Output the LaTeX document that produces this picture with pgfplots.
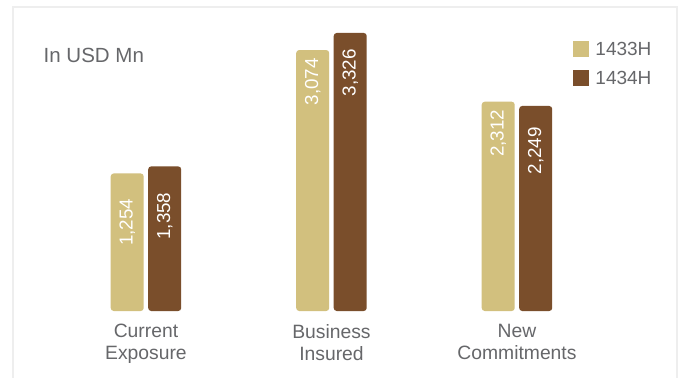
\documentclass[border=0pt]{standalone}
\usepackage{pgfplots}
\pgfplotsset{compat=1.18}
\usepackage{pgfplotstable}
\usepackage{fontspec}
\setmainfont{Liberation Sans}
\definecolor{tanbar}{RGB}{210,192,126}
\definecolor{brownbar}{RGB}{122,78,43}
\definecolor{txtgrey}{RGB}{102,103,106}
\definecolor{framegrey}{RGB}{238,238,238}

\pgfplotstableread{
x v off
0 1254 25
1 3074 8
2 2312 8
}\tA
\pgfplotstableread{
x v off
0 1358 26
1 3326 16
2 2249 21
}\tB

\begin{document}
\begin{tikzpicture}[x=1pt,y=1pt]
\path[use as bounding box] (0,0) rectangle (680,378);
\fill[white] (0,0) rectangle (680,378);
\draw[framegrey, line width=2pt] (13,0) -- (13,371) -- (677,371) -- (677,0);
\begin{axis}[
  at={(20pt,67pt)}, anchor=south west,
  scale only axis, width=640pt, height=300pt,
  xmin=-0.679, xmax=2.771, ymin=0, ymax=4425,
  axis line style={draw=none},
  ytick=\empty,
  xtick={0,1,2},
  xticklabels={Current\\Exposure, Business\\Insured, New\\Commitments},
  major tick length=0pt, tick style={draw=none},
  xticklabel style={anchor=north, inner sep=0pt, yshift=-13pt, align=center,
    font=\fontsize{19.3}{22}\selectfont, text=txtgrey},
  ybar, bar width=33pt,
  /pgf/number format/assume math mode=true,
  point meta=explicit,
  nodes near coords={\pgfmathprintnumber[1000 sep={,}]{\pgfplotspointmeta}},
  visualization depends on={\thisrow{off} \as \off},
  every node near coord/.append style={rotate=90, anchor=east, inner sep=0pt,
    xshift=-\off pt, text=white, font=\fontsize{18.8}{20}\selectfont},
  legend image code/.code={\fill[#1,sharp corners] (0pt,-7.5pt) rectangle (16pt,8.5pt);},
  legend style={at={(axis description cs:0.8645,0.9)}, anchor=north west,
    draw=none, fill=none, inner sep=0pt, row sep=13pt, column sep=6pt,
    font=\fontsize{19}{22}\selectfont, text=txtgrey, nodes={inner sep=0pt}},
  legend cell align=left,
]
\addplot[fill=tanbar, draw=none, rounded corners=3pt, bar shift=-18.75pt]
  table[x=x, y expr=\thisrow{v}+775, meta=v]{\tA};
\addlegendentry{1433H}
\addplot[fill=brownbar, draw=none, rounded corners=3pt, bar shift=18.75pt]
  table[x=x, y expr=\thisrow{v}+775, meta=v]{\tB};
\addlegendentry{1434H}
\end{axis}
\node[anchor=base west, inner sep=0pt, text=txtgrey, font=\fontsize{20.5}{24}\selectfont] at (43.5,315) {In USD Mn};
\end{tikzpicture}
\end{document}
